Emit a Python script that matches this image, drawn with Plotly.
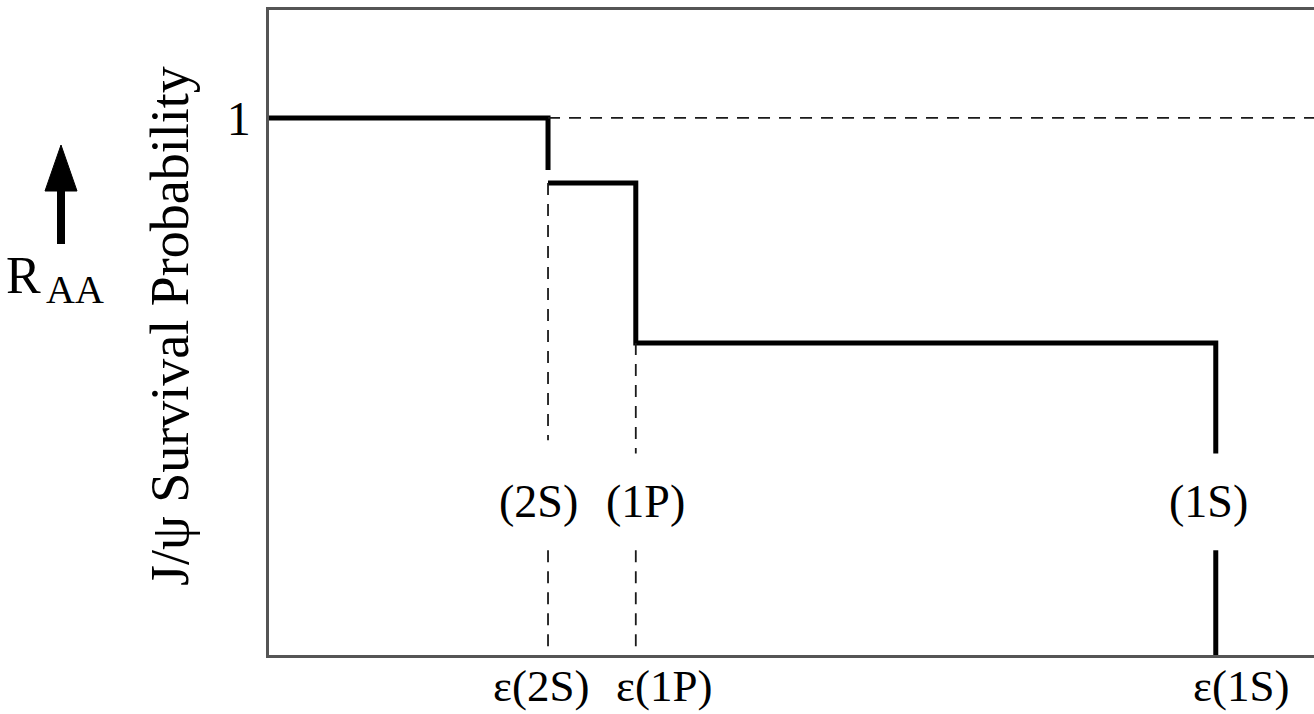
import plotly.graph_objects as go

# Dissociation thresholds on the energy-density axis (arbitrary units)
state_names = ["2S", "1P", "1S"]
thresholds = [0.267, 0.351, 0.906]
# Survival probability plateaus: before 2S melts, after 2S, after 1P
levels = [1.0, 0.879, 0.581]
y_tick_vals = [1]
y_tick_text = ["1"]

X_MAX = 1.0
Y_MAX = 1.201
LABEL_Y = 0.285          # height of the "(nS)" state labels
GAP = 0.09               # half-height of the gap left around those labels

FONT = "Liberation Serif"
W, H = 1314, 714
ML, MR, MT, MB = 269, 0, 10, 59
PW, PH = W - ML - MR, H - MT - MB


def px(xp):
    return (xp - ML) / PW


def py(yp):
    return (H - MB - yp) / PH


e2s, e1p, e1s = thresholds
l0, l1, l2 = levels

fig = go.Figure()

# Solid survival-probability step curve
step_x = [0, e2s, e2s, None,
          e2s, e1p, e1p, e1s, e1s, None,
          e1s, e1s]
step_y = [l0, l0, l1 + 0.024, None,
          l1, l1, l2, l2, LABEL_Y + GAP, None,
          LABEL_Y - GAP, 0]
fig.add_trace(go.Scatter(x=step_x, y=step_y, mode="lines",
                         line=dict(color="black", width=5),
                         hoverinfo="skip", showlegend=False))

# Dashed guide lines: reference level 1 and threshold markers
dash_x = [e2s, X_MAX, None,
          e2s, e2s, None, e2s, e2s, None,
          e1p, e1p, None, e1p, e1p]
dash_y = [l0, l0, None,
          l1, LABEL_Y + GAP + 0.025, None, LABEL_Y - GAP, 0, None,
          l2, LABEL_Y + GAP, None, LABEL_Y - GAP, 0]
fig.add_trace(go.Scatter(x=dash_x, y=dash_y, mode="lines",
                         line=dict(color="#1a1a1a", width=1.8, dash="12px,9px"),
                         hoverinfo="skip", showlegend=False))

# State labels inside the plot
label_shift = [-10, 10, -7]
for name, xv, sh in zip(state_names, thresholds, label_shift):
    fig.add_annotation(x=xv, y=LABEL_Y, xref="x", yref="y", text=f"({name})",
                       showarrow=False, xshift=sh,
                       font=dict(family=FONT, size=46, color="black"))

# Threshold labels under the axis
eps_shift = [-7, 28, 25]
for name, xv, sh in zip(state_names, thresholds, eps_shift):
    fig.add_annotation(x=xv, y=py(686), xref="x", yref="paper",
                       text=f"ε({name})", showarrow=False, xshift=sh,
                       yanchor="middle",
                       font=dict(family=FONT, size=45, color="black"))

# Vertical axis title
fig.add_annotation(x=px(170), y=py(326), xref="paper", yref="paper",
                   text="J/ψ Survival Probability", textangle=-90,
                   showarrow=False, xanchor="center", yanchor="middle",
                   font=dict(family=FONT, size=54, color="black"))

# R_AA symbol with subscript
fig.add_annotation(x=px(43), y=py(296), xref="paper", yref="paper",
                   text="R", showarrow=False, xanchor="right", yanchor="bottom",
                   yshift=-10,
                   font=dict(family=FONT, size=52, color="black"))
fig.add_annotation(x=px(44), y=py(306), xref="paper", yref="paper",
                   text="AA", showarrow=False, xanchor="left", yanchor="bottom",
                   yshift=-8,
                   font=dict(family=FONT, size=40, color="black"))

# Upward arrow beside R_AA
fig.add_shape(type="line", xref="paper", yref="paper",
              x0=px(61), x1=px(61), y0=py(244), y1=py(188),
              line=dict(color="black", width=8))
fig.add_shape(type="path", xref="paper", yref="paper",
              path=(f"M {px(45)},{py(191)} L {px(77)},{py(191)} "
                    f"L {px(61)},{py(145)} Z"),
              fillcolor="black", line=dict(color="black", width=1))

fig.update_layout(
    width=W, height=H,
    margin=dict(l=ML, r=MR, t=MT, b=MB),
    paper_bgcolor="white", plot_bgcolor="white",
    showlegend=False,
    xaxis=dict(range=[0, X_MAX], showgrid=False, zeroline=False,
               showticklabels=False, ticks="",
               showline=True, mirror=True, linecolor="#555555", linewidth=2.5),
    yaxis=dict(range=[0, Y_MAX], showgrid=False, zeroline=False,
               tickvals=y_tick_vals, ticktext=y_tick_text, ticks="",
               ticklabelstandoff=6,
               tickfont=dict(family=FONT, size=48, color="black"),
               showline=True, mirror=False, linecolor="#555555", linewidth=2.5),
)

fig.write_html("out.html")
